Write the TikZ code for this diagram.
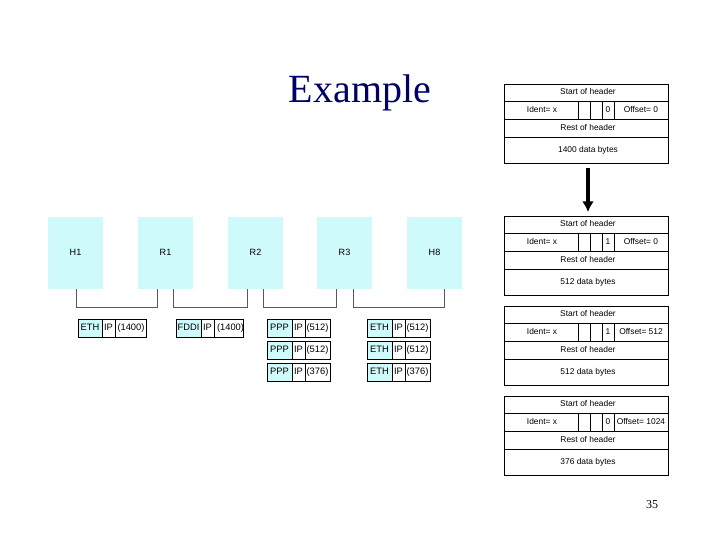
\documentclass[tikz,border=0pt]{standalone}
\usepackage{fontspec}
\usetikzlibrary{arrows.meta}
\setmainfont{Liberation Serif}
\newfontfamily\hsans{Liberation Sans}
\definecolor{lc}{RGB}{206,250,252}
\begin{document}
\begin{tikzpicture}[x=0.75pt,y=-0.75pt,
  hdr/.style={draw,line width=0.6pt,font=\hsans\fontsize{6.3}{7}\selectfont,text height=4.6pt,text depth=1.3pt},
  host/.style={fill=lc,draw=none,font=\hsans\fontsize{6.8}{8}\selectfont},
  pk/.style={draw,line width=0.5pt,font=\hsans\fontsize{7}{8}\selectfont,inner sep=0pt,text height=5pt,text depth=1.5pt},
  lnk/.style={draw=gray!70!black,line width=0.6pt}]
\useasboundingbox (0,0) rectangle (720,540);
\node[font=\fontsize{30}{34}\selectfont,text=blue!40!black] (title) at (360,93) {Example};
\node[font=\fontsize{9}{10}\selectfont] (pg) at (652,505) {35};
% header blocks
\foreach \y/\fl/\off/\dat [count=\i] in {84/0/0/1400, 216/1/0/512, 306/1/512/512, 396/0/1024/376}{
  \begin{scope}[hdr]
  \draw (504,\y) rectangle (668,\y+79);
  \draw (504,\y+17) -- (668,\y+17) (504,\y+35) -- (668,\y+35) (504,\y+53) -- (668,\y+53);
  \draw (578,\y+17) -- (578,\y+35) (590,\y+17) -- (590,\y+35) (602,\y+17) -- (602,\y+35) (614,\y+17) -- (614,\y+35);
  \end{scope}
  \node[hdr,draw=none] (s\i) at (588,\y+8.5) {Start of header};
  \node[hdr,draw=none] (id\i) at (542,\y+26) {Ident= x};
  \node[hdr,draw=none] (f\i) at (608,\y+26) {\fl};
  \node[hdr,draw=none] (o\i) at (641,\y+26) {Offset= \off};
  \node[hdr,draw=none] (r\i) at (588,\y+44) {Rest of header};
  \node[hdr,draw=none] (d\i) at (588,\y+66) {\dat\ data bytes};
}
\coordinate (a1) at (588,168);
\coordinate (a2) at (588,212);
\draw[line width=2.5pt,-{Latex[length=8pt,width=9pt]}] (a1) -- (a2);
% hosts
\foreach \n/\l/\x in {h1/H1/48,r1/R1/138,r2/R2/228,r3/R3/317,h8/H8/407}{
  \fill[lc] (\x,217) rectangle (\x+55,289);
  \node[host,fill=none] (\n) at (\x+27.5,252) {\l};
}
\foreach \a/\b in {76/157,173/247,263/336,353/444}{
  \draw[lnk] (\a,289) -- (\a,307) -- (\b,307) -- (\b,289);
}
% packets
\newcommand\pkt[6]{% x, y, w1, name, label, size
  \fill[lc] (#1,#2) rectangle (#1+#3,#2+18);
  \draw[line width=0.5pt] (#1,#2) rectangle (#1+#3+13+#6,#2+18);
  \draw[line width=0.5pt] (#1+#3,#2) -- (#1+#3,#2+18) (#1+#3+13,#2) -- (#1+#3+13,#2+18);
  \node[pk,draw=none] (#4a) at (#1+#3/2,#2+9) {#5};
  \node[pk,draw=none] (#4b) at (#1+#3+6.5,#2+9) {IP};
}
\pkt{78}{319}{24}{p1}{ETH}{31}\node[pk,draw=none] at (131,328) {(1400)};
\pkt{176}{319}{25}{p2}{FDDI}{29}\node[pk,draw=none] at (230.5,328) {(1400)};
\foreach \yy/\sz [count=\j] in {319/512,341/512,363/376}{
  \pkt{267}{\yy}{25}{q\j}{PPP}{25}\node[pk,draw=none] at (317.5,\yy+9) {(\sz)};
  \pkt{367}{\yy}{25}{e\j}{ETH}{25}\node[pk,draw=none] at (417.5,\yy+9) {(\sz)};
}
\end{tikzpicture}
\end{document}
